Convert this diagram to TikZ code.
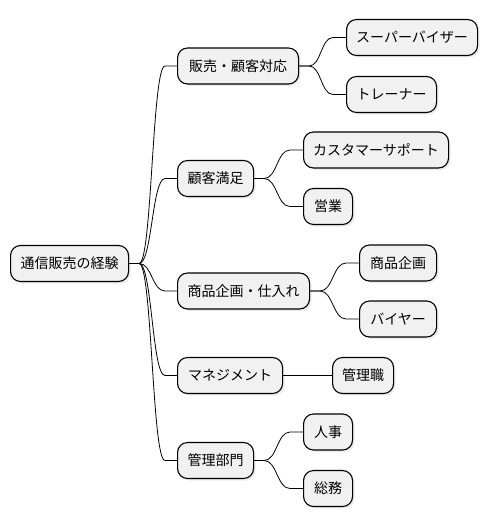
\documentclass[tikz,border=0pt]{standalone}
\usepackage{fontspec}
\setmainfont{Noto Sans CJK JP}
\usetikzlibrary{calc,shadows}
\definecolor{boxgray}{HTML}{F1F1F1}
\tikzset{
  mbox/.style={draw=black, line width=1.1pt, fill=boxgray, rounded corners=10pt,
    minimum height=36pt, inner xsep=0pt, inner ysep=0pt, anchor=west,
    font=\fontsize{14pt}{16pt}\selectfont,
    drop shadow={opacity=0.15, shadow xshift=2pt, shadow yshift=-2pt}},
  conn/.style={draw=black, line width=0.8pt}
}
\newcommand{\conn}[4]{%
  \path (#1.east) ++(#3,0) coordinate (cA);
  \path (#2.west) ++(-#4,0) coordinate (cB);
  \path ($(cA)!0.5!(cB)$) coordinate (cM);
  \draw[conn] (#1.east) -- (cA) .. controls (cM |- cA) and (cM |- cB) .. (cB) -- (#2.west);
}
\begin{document}
\begin{tikzpicture}[x=1pt,y=-1pt]
\useasboundingbox (0,0) rectangle (488,527);
\node[mbox, minimum width=118pt] (root) at (10,263.5) {通信販売の経験};
\node[mbox, minimum width=121pt] (a) at (177,66) {販売・顧客対応};
\node[mbox, minimum width=76pt] (b) at (177,178.5) {顧客満足};
\node[mbox, minimum width=132pt] (c) at (177,291) {商品企画・仕入れ};
\node[mbox, minimum width=105pt] (d) at (177,375.5) {マネジメント};
\node[mbox, minimum width=76pt] (e) at (177,460.5) {管理部門};
\node[mbox, minimum width=131pt] (a1) at (346,37.5) {スーパーバイザー};
\node[mbox, minimum width=90pt] (a2) at (346,94.5) {トレーナー};
\node[mbox, minimum width=145pt] (b1) at (303,150) {カスタマーサポート};
\node[mbox, minimum width=49pt] (b2) at (303,206.5) {営業};
\node[mbox, minimum width=77pt] (c1) at (359,263) {商品企画};
\node[mbox, minimum width=77pt] (c2) at (359,319) {バイヤー};
\node[mbox, minimum width=61pt] (d1) at (332,375.5) {管理職};
\node[mbox, minimum width=49pt] (e1) at (303,432) {人事};
\node[mbox, minimum width=49pt] (e2) at (303,488.5) {総務};
\conn{root}{a}{10}{12}
\conn{root}{b}{10}{12}
\conn{root}{c}{10}{12}
\conn{root}{d}{10}{12}
\conn{root}{e}{10}{12}
\conn{a}{a1}{10}{13}
\conn{a}{a2}{10}{13}
\conn{b}{b1}{10}{13}
\conn{b}{b2}{10}{13}
\conn{c}{c1}{10}{13}
\conn{c}{c2}{10}{13}
\conn{d}{d1}{10}{13}
\conn{e}{e1}{10}{13}
\conn{e}{e2}{10}{13}
\end{tikzpicture}
\end{document}
